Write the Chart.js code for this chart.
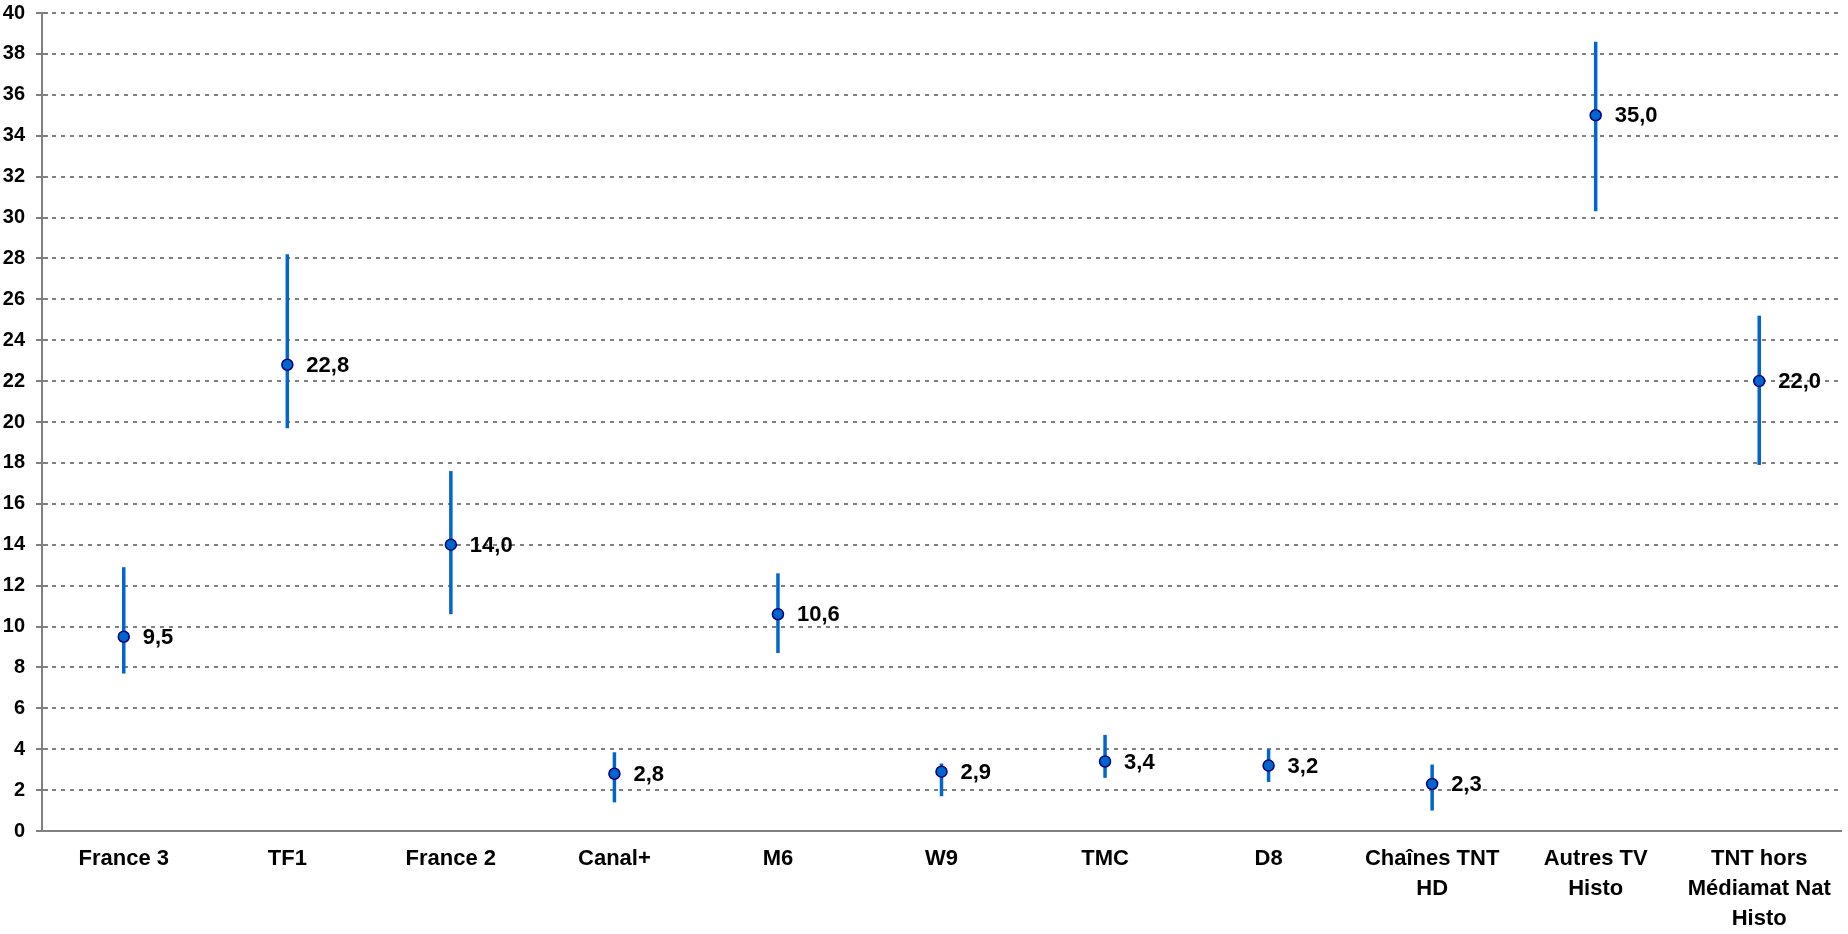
<!DOCTYPE html>
<html>
<head>
<meta charset="utf-8">
<script src="https://cdn.jsdelivr.net/npm/chart.js@4.4.1/dist/chart.umd.min.js"></script>
<style>
  html, body { margin: 0; padding: 0; background: #ffffff; }
  #wrap { width: 1848px; height: 934px; position: relative; }
</style>
</head>
<body>
<div id="wrap"><canvas id="c"></canvas></div>
<script>
const categories = ['France 3', 'TF1', 'France 2', 'Canal+', 'M6', 'W9', 'TMC', 'D8',
  ['Chaînes TNT', 'HD'], ['Autres TV', 'Histo'], ['TNT hors', 'Médiamat Nat', 'Histo']];
const values = [9.5, 22.8, 14.0, 2.8, 10.6, 2.9, 3.4, 3.2, 2.3, 35.0, 22.0];
const lowValues = [7.7, 19.7, 10.6, 1.4, 8.7, 1.7, 2.6, 2.4, 1.0, 30.3, 17.9];
const highValues = [12.9, 28.2, 17.6, 3.85, 12.6, 3.3, 4.7, 4.0, 3.25, 38.6, 25.2];
const yMin = 0, yMax = 40, yStep = 2;

const FONT = '"Liberation Sans", Arial, Helvetica, sans-serif';
Chart.defaults.font.family = FONT;
Chart.defaults.font.weight = 'bold';
Chart.defaults.color = '#000000';

const errorBarPlugin = {
  id: 'errorBars',
  beforeDatasetsDraw(chart) {
    const { ctx, scales: { x, y } } = chart;
    ctx.save();
    ctx.strokeStyle = '#0066CC';
    ctx.lineWidth = 3.5;
    ctx.lineCap = 'butt';
    values.forEach((v, i) => {
      const px = x.getPixelForValue(i);
      ctx.beginPath();
      ctx.moveTo(px, y.getPixelForValue(highValues[i]));
      ctx.lineTo(px, y.getPixelForValue(lowValues[i]));
      ctx.stroke();
    });
    // inner half of the y-axis tick marks
    ctx.strokeStyle = '#808080';
    ctx.lineWidth = 2;
    y.ticks.forEach(t => {
      const py = Math.round(y.getPixelForValue(t.value));
      ctx.beginPath();
      ctx.moveTo(y.right, py);
      ctx.lineTo(y.right + 6, py);
      ctx.stroke();
    });
    ctx.restore();
  },
  afterDatasetsDraw(chart) {
    const { ctx, scales: { x, y } } = chart;
    ctx.save();
    ctx.font = 'bold 22px ' + FONT;
    ctx.fillStyle = '#000000';
    ctx.textAlign = 'left';
    ctx.textBaseline = 'middle';
    values.forEach((v, i) => {
      const px = x.getPixelForValue(i);
      const py = y.getPixelForValue(v);
      ctx.fillText(v.toFixed(1).replace('.', ','), px + 19, py + 1);
    });
    ctx.restore();
  }
};

new Chart(document.getElementById('c'), {
  type: 'line',
  data: {
    labels: categories,
    datasets: [{
      data: values,
      showLine: false,
      pointRadius: 5.5,
      pointHoverRadius: 5.5,
      pointBackgroundColor: '#0066CC',
      pointBorderColor: '#000080',
      pointBorderWidth: 1.5
    }]
  },
  options: {
    responsive: true,
    maintainAspectRatio: false,
    animation: false,
    events: [],
    layout: { padding: { top: 13, right: 2, left: 0, bottom: 0 } },
    plugins: { legend: { display: false }, tooltip: { enabled: false } },
    scales: {
      x: {
        type: 'category',
        offset: true,
        grid: { display: false, drawTicks: false },
        border: { display: true, color: '#808080', width: 2 },
        ticks: {
          font: { size: 22, weight: 'bold', lineHeight: '30px' },
          color: '#000000',
          padding: 13,
          maxRotation: 0,
          minRotation: 0,
          autoSkip: false
        },
        afterFit(scale) { scale.height = 103; }
      },
      y: {
        min: yMin,
        max: yMax,
        grid: { color: '#808080', lineWidth: 2, tickLength: 6, drawTicks: true },
        border: { display: true, color: '#808080', width: 2, dash: [4, 5] },
        ticks: {
          stepSize: yStep,
          font: { size: 20, weight: 'bold' },
          color: '#000000',
          padding: 11
        },
        afterFit(scale) {
          scale.width = 42;
          scale.paddingTop = 0;
          scale.paddingBottom = 0;
        }
      }
    }
  },
  plugins: [errorBarPlugin]
});
</script>
</body>
</html>
